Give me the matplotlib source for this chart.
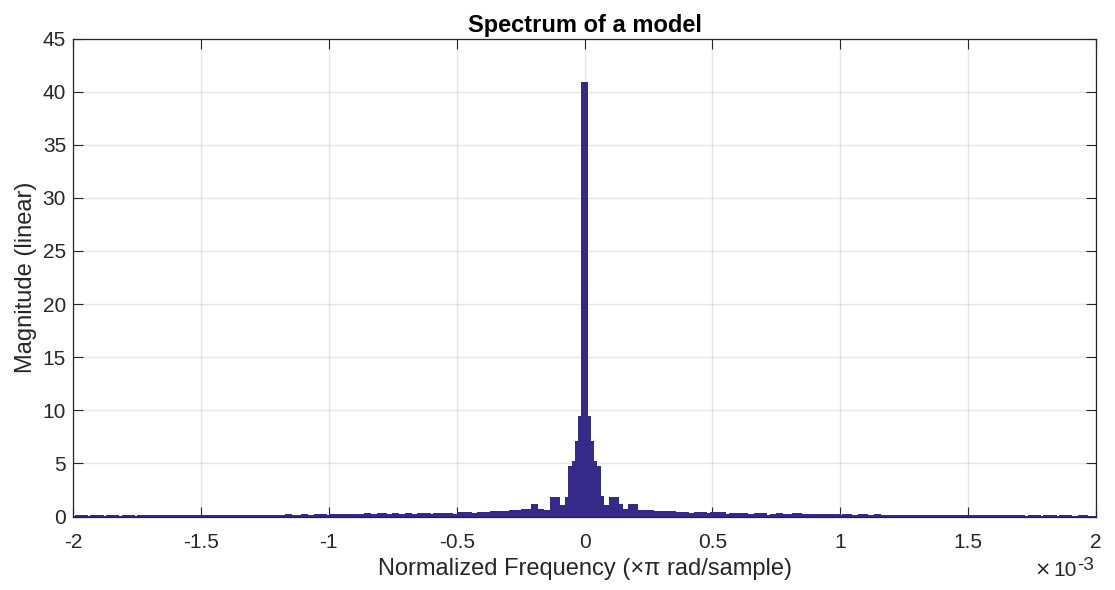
import numpy as np
import matplotlib
matplotlib.use("Agg")
import matplotlib.pyplot as plt

# ---------------- data (magnitudes) ----------------
bin_step = 1.23e-5          # frequency spacing of the spectrum (x pi rad/sample)
mag_dc = 40.9               # centre (DC) bin

# bins k = -162 ... -1 (outermost first)
mag_neg = [
    0.08, 0.10, 0.12, 0.10, 0.07, 0.09, 0.11, 0.12, 0.10, 0.08,
    0.07, 0.10, 0.12, 0.11, 0.09, 0.08, 0.10, 0.13, 0.12, 0.09,
    0.08, 0.10, 0.12, 0.13, 0.11, 0.09, 0.10, 0.12, 0.13, 0.11,
    0.09, 0.10, 0.12, 0.14, 0.12, 0.10, 0.11, 0.13, 0.14, 0.12,
    0.10, 0.12, 0.15, 0.14, 0.12, 0.11, 0.13, 0.15, 0.16, 0.14,
    0.12, 0.13, 0.15, 0.17, 0.15, 0.13, 0.14, 0.16, 0.17, 0.15,
    0.13, 0.15, 0.17, 0.18, 0.16, 0.14, 0.15, 0.18, 0.19, 0.17,
    0.15, 0.16, 0.18, 0.20, 0.18, 0.16, 0.17, 0.19, 0.21, 0.19,
    0.17,
    0.18, 0.20, 0.23, 0.21, 0.19, 0.22, 0.25, 0.27, 0.24, 0.21,
    0.23, 0.26, 0.30, 0.27, 0.23, 0.25, 0.29, 0.32, 0.28, 0.24,
    0.26, 0.30, 0.27,
    0.25, 0.24, 0.30, 0.20, 0.19, 0.28, 0.35, 0.36, 0.34, 0.28,
    0.27, 0.29, 0.34, 0.36, 0.35, 0.33, 0.22, 0.19, 0.21, 0.40,
    0.42, 0.40, 0.31, 0.29, 0.30, 0.40, 0.42, 0.41, 0.43, 0.50,
    0.52, 0.52,
    0.52, 0.53, 0.52, 0.58, 0.57, 0.59, 0.64, 0.66, 0.67, 0.68,
    1.15, 0.68, 0.68, 0.62, 0.62, 0.64, 1.81, 1.81, 1.10, 1.05,
    1.10, 1.86, 4.78, 5.25, 7.14, 9.46,
]

# bins k = 1 ... 162 (centre outwards)
mag_pos = [
    9.46, 7.14, 5.25, 4.78, 1.93, 1.08, 1.05, 1.10, 1.86, 1.86,
    1.15, 0.68, 0.68, 0.68, 1.15, 1.15, 0.62, 0.63, 0.61, 0.60,
    0.58, 0.52, 0.50, 0.51, 0.50, 0.50,
    0.50, 0.49, 0.42, 0.43, 0.41, 0.42, 0.30, 0.29, 0.31, 0.42,
    0.43, 0.41, 0.30, 0.29, 0.38, 0.40, 0.41, 0.39, 0.28, 0.27,
    0.29, 0.28, 0.36, 0.37, 0.36, 0.20, 0.19, 0.21, 0.30, 0.31,
    0.29, 0.17, 0.18,
    0.22, 0.26, 0.30, 0.28, 0.24, 0.21, 0.25, 0.29, 0.31, 0.27,
    0.23, 0.20, 0.24, 0.27, 0.25, 0.21, 0.19, 0.23, 0.26, 0.24,
    0.20, 0.18,
    0.17, 0.19, 0.21, 0.18, 0.15, 0.17, 0.20, 0.19, 0.16, 0.14,
    0.16, 0.19, 0.18, 0.15, 0.13, 0.15, 0.18, 0.17, 0.14, 0.13,
    0.15, 0.17, 0.16, 0.13, 0.12, 0.14, 0.16, 0.15, 0.12, 0.11,
    0.13, 0.15, 0.14, 0.12, 0.11, 0.13, 0.15, 0.13, 0.11, 0.10,
    0.12,
    0.13, 0.14, 0.12, 0.10, 0.11, 0.13, 0.12, 0.10, 0.09, 0.11,
    0.13, 0.12, 0.10, 0.09, 0.11, 0.12, 0.11, 0.09, 0.08, 0.10,
    0.12, 0.11, 0.09, 0.08, 0.10, 0.12, 0.11, 0.09, 0.08, 0.10,
    0.11, 0.10, 0.08, 0.07, 0.09, 0.11, 0.10, 0.08, 0.07, 0.09,
]

x_ticks = [-2, -1.5, -1, -0.5, 0, 0.5, 1, 1.5, 2]          # x 1e-3
x_tick_labels = ["-2", "-1.5", "-1", "-0.5", "0", "0.5", "1", "1.5", "2"]
y_ticks = [0, 5, 10, 15, 20, 25, 30, 35, 40, 45]

title_text = "Spectrum of a model"
xlabel_text = "Normalized Frequency (\u00d7\u03c0 rad/sample)"
ylabel_text = "Magnitude (linear)"

# ---------------- plotting ----------------
plt.rcParams["font.family"] = ["Liberation Sans", "DejaVu Sans"]
ink = "#262626"
bar_color = "#35298a"

magnitude = np.array(mag_neg + [mag_dc] + mag_pos)
k = np.arange(-len(mag_neg), len(mag_pos) + 1)
freq = k * bin_step * 1e3          # plotted in units of 1e-3

fig = plt.figure(figsize=(11.15, 5.90), dpi=100)
ax = fig.add_axes([73 / 1115, 1 - 516.5 / 590, (1096 - 73) / 1115, (516.5 - 38.5) / 590])

ax.bar(freq, magnitude, width=2.2 * bin_step * 1e3, color=bar_color,
       edgecolor=bar_color, linewidth=0, zorder=2)

ax.set_xlim(-2, 2)
ax.set_ylim(0, 45)
ax.set_xticks(x_ticks)
ax.set_xticklabels(x_tick_labels)
ax.set_yticks(y_ticks)

ax.grid(True, color=(0.15, 0.15, 0.15), alpha=0.11, linewidth=1.0, zorder=0)
ax.set_axisbelow(True)

for s in ax.spines.values():
    s.set_color(ink)
    s.set_linewidth(0.9)
    s.set_zorder(5)

ax.tick_params(axis="both", which="both", direction="in", length=7, width=0.8,
               color=ink, labelcolor=ink, labelsize=15,
               top=True, right=True)
ax.tick_params(axis="x", pad=12)
ax.tick_params(axis="y", pad=5)

ax.set_title(title_text, fontsize=17, fontweight="bold", color="black", pad=5)
ax.set_xlabel(xlabel_text, fontsize=17, color=ink, labelpad=4.5)
ax.set_ylabel(ylabel_text, fontsize=17, color=ink, labelpad=4)

# exponent label (x 10^-3) at bottom right
fig.text(1051 / 1115, 1 - 576 / 590, "\u00d7", fontsize=14, color=ink,
         family=["DejaVu Sans"], ha="right", va="baseline")
fig.text(1077 / 1115, 1 - 576 / 590, "10", fontsize=15, color=ink,
         ha="right", va="baseline")
fig.text(1077 / 1115, 1 - 570 / 590, "-3", fontsize=13.5, color=ink,
         ha="left", va="baseline")

fig.savefig("out.png", dpi=100)
